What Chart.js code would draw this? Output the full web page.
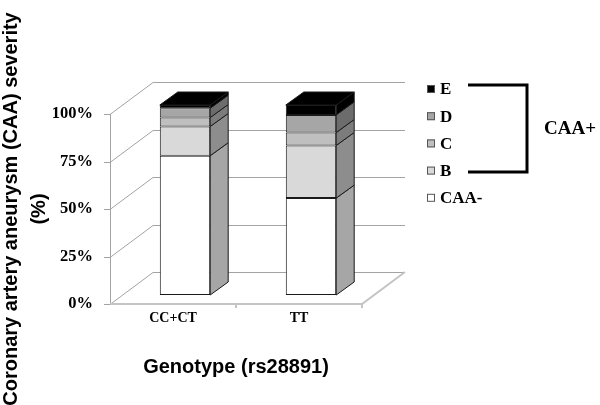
<!DOCTYPE html>
<html>
<head>
<meta charset="utf-8">
<script src="https://cdn.jsdelivr.net/npm/chart.js@4.4.0/dist/chart.umd.min.js"></script>
<style>
    html, body { margin: 0; padding: 0; background: #fff; }
    #wrap { width: 600px; height: 405px; }
</style>
</head>
<body>
<div id="wrap"><canvas id="caaChart"></canvas></div>
<script>
// Genotype groups (x axis)
const genotypes = ['CC+CT', 'TT'];

// CAA severity share per genotype, in %, bottom to top of the stack
const caaNeg = [73.3, 51.0];
const gradeB = [15.4, 27.7];
const gradeC = [4.7, 6.8];
const gradeD = [4.9, 9.3];
const gradeE = [1.7, 5.2];

// y axis ticks
const yTicks = [0, 25, 50, 75, 100];

// 3D look: wall depth, where the bars sit inside it, and bar thickness
const WALL = { x: 43, y: -32 };
const BAR_SHIFT = { x: 12, y: -9 };
const BAR_DEPTH = { x: 18, y: -13 };

const SERIF = "'Liberation Serif', 'Times New Roman', serif";
const SANS = "'Liberation Sans', Arial, sans-serif";

// Darken a hex colour for the side faces
function shade(hex, f) {
    const n = parseInt(hex.slice(1), 16);
    const r = Math.round(((n >> 16) & 255) * f);
    const g = Math.round(((n >> 8) & 255) * f);
    const b = Math.round((n & 255) * f);
    return `rgb(${r},${g},${b})`;
}

const depthPlugin = {
    id: 'depth3d',
    beforeDatasetsDraw(chart) {
        const { ctx, chartArea: a, scales: { x, y } } = chart;
        ctx.save();
        ctx.strokeStyle = '#a3a3a3';
        ctx.lineWidth = 1;
        ctx.beginPath();
        yTicks.forEach(v => {
            const py = Math.round(y.getPixelForValue(v)) + 0.5;
            ctx.moveTo(a.left - 6, py);
            ctx.lineTo(a.left, py);
            ctx.lineTo(a.left + WALL.x, py + WALL.y);
            ctx.lineTo(a.right + WALL.x, py + WALL.y);
        });
        ctx.moveTo(a.left + 0.5, a.top);
        ctx.lineTo(a.left + 0.5, a.bottom);
        ctx.stroke();

        // floor front edge + right edge
        ctx.strokeStyle = '#c4c4c4';
        ctx.lineWidth = 2;
        ctx.beginPath();
        ctx.moveTo(a.left, a.bottom);
        ctx.lineTo(a.right, a.bottom);
        ctx.lineTo(a.right + WALL.x, a.bottom + WALL.y);
        for (let i = 0; i < genotypes.length; i++) {
            const px = x.getPixelForValue(i + 0.5);
            ctx.moveTo(px, a.bottom);
            ctx.lineTo(px, a.bottom + 4);
        }
        ctx.stroke();
        ctx.restore();

        // bars are drawn a bit back inside the box
        ctx.save();
        ctx.translate(BAR_SHIFT.x, BAR_SHIFT.y);
    },
    afterDatasetsDraw(chart) {
        const { ctx } = chart;
        const datasets = chart.data.datasets;
        ctx.lineWidth = 1;
        ctx.strokeStyle = '#1a1a1a';
        datasets.forEach((ds, i) => {
            const meta = chart.getDatasetMeta(i);
            meta.data.forEach(bar => {
                const { x, y, base, width } = bar.getProps(['x', 'y', 'base', 'width'], true);
                const xl = x - width / 2;
                const xr = x + width / 2;
                // side face
                ctx.beginPath();
                ctx.moveTo(xr, y);
                ctx.lineTo(xr + BAR_DEPTH.x, y + BAR_DEPTH.y);
                ctx.lineTo(xr + BAR_DEPTH.x, base + BAR_DEPTH.y);
                ctx.lineTo(xr, base);
                ctx.closePath();
                ctx.fillStyle = shade(ds.backgroundColor, 0.65);
                ctx.fill();
                ctx.stroke();
                // top face on the last segment
                if (i === datasets.length - 1) {
                    ctx.beginPath();
                    ctx.moveTo(xl, y);
                    ctx.lineTo(xl + BAR_DEPTH.x, y + BAR_DEPTH.y);
                    ctx.lineTo(xr + BAR_DEPTH.x, y + BAR_DEPTH.y);
                    ctx.lineTo(xr, y);
                    ctx.closePath();
                    ctx.fillStyle = ds.backgroundColor;
                    ctx.fill();
                    ctx.stroke();
                }
            });
        });
        ctx.restore();

        // legend (top item first) with the CAA+ bracket
        ctx.save();
        ctx.font = `bold 17px ${SERIF}`;
        ctx.textBaseline = 'middle';
        ctx.textAlign = 'left';
        const items = datasets.slice().reverse();
        items.forEach((ds, k) => {
            const cy = 89 + k * 27.2;
            ctx.fillStyle = ds.backgroundColor;
            ctx.fillRect(427, cy - 4, 8, 8);
            ctx.strokeStyle = '#555';
            ctx.lineWidth = 1;
            ctx.strokeRect(427.5, cy - 3.5, 7, 7);
            ctx.fillStyle = '#000';
            ctx.fillText(ds.label, 440, cy + 1);
        });
        ctx.strokeStyle = '#000';
        ctx.lineWidth = 3;
        ctx.beginPath();
        ctx.moveTo(468, 85);
        ctx.lineTo(527, 85);
        ctx.lineTo(527, 172);
        ctx.lineTo(468, 172);
        ctx.stroke();
        ctx.font = `bold 19px ${SERIF}`;
        ctx.fillText('CAA+', 544, 129);
        ctx.restore();
    }
};

const ctx = document.getElementById('caaChart');
new Chart(ctx, {
    type: 'bar',
    data: {
        labels: genotypes,
        datasets: [
            { label: 'CAA-', data: caaNeg, backgroundColor: '#ffffff' },
            { label: 'B', data: gradeB, backgroundColor: '#d9d9d9' },
            { label: 'C', data: gradeC, backgroundColor: '#bfbfbf' },
            { label: 'D', data: gradeD, backgroundColor: '#a6a6a6' },
            { label: 'E', data: gradeE, backgroundColor: '#000000' }
        ].map(ds => Object.assign(ds, {
            borderColor: '#1a1a1a',
            borderWidth: 1,
            borderSkipped: false,
            barPercentage: 0.4,
            categoryPercentage: 1
        }))
    },
    options: {
        responsive: true,
        maintainAspectRatio: false,
        animation: false,
        layout: { padding: { left: 0, top: 114, right: 238, bottom: 0 } },
        plugins: {
            legend: { display: false },
            tooltip: { enabled: false }
        },
        scales: {
            x: {
                stacked: true,
                grid: { display: false, drawTicks: false },
                border: { display: false },
                ticks: {
                    color: '#000',
                    padding: 6,
                    font: { family: SERIF, size: 14, weight: 'bold' }
                },
                title: {
                    display: true,
                    text: 'Genotype (rs28891)',
                    color: '#000',
                    font: { family: SANS, size: 20, weight: 'bold', lineHeight: 1.2 },
                    padding: { top: 0, bottom: 26 }
                },
                afterFit: scale => { scale.height = 101; }
            },
            y: {
                stacked: true,
                min: 0,
                max: 100,
                grid: { display: false, drawTicks: false },
                border: { display: false },
                ticks: {
                    stepSize: 25,
                    color: '#000',
                    padding: 17,
                    font: { family: SERIF, size: 16.5, weight: 'bold' },
                    callback: v => v + '%'
                },
                title: {
                    display: true,
                    text: ['Coronary artery aneurysm (CAA) severity', '(%)'],
                    color: '#000',
                    font: { family: SANS, size: 20, weight: 'bold', lineHeight: 1.4 },
                    padding: { top: -3, bottom: 0 }
                },
                afterFit: scale => { scale.width = 110; }
            }
        }
    },
    plugins: [depthPlugin]
});
</script>
</body>
</html>
